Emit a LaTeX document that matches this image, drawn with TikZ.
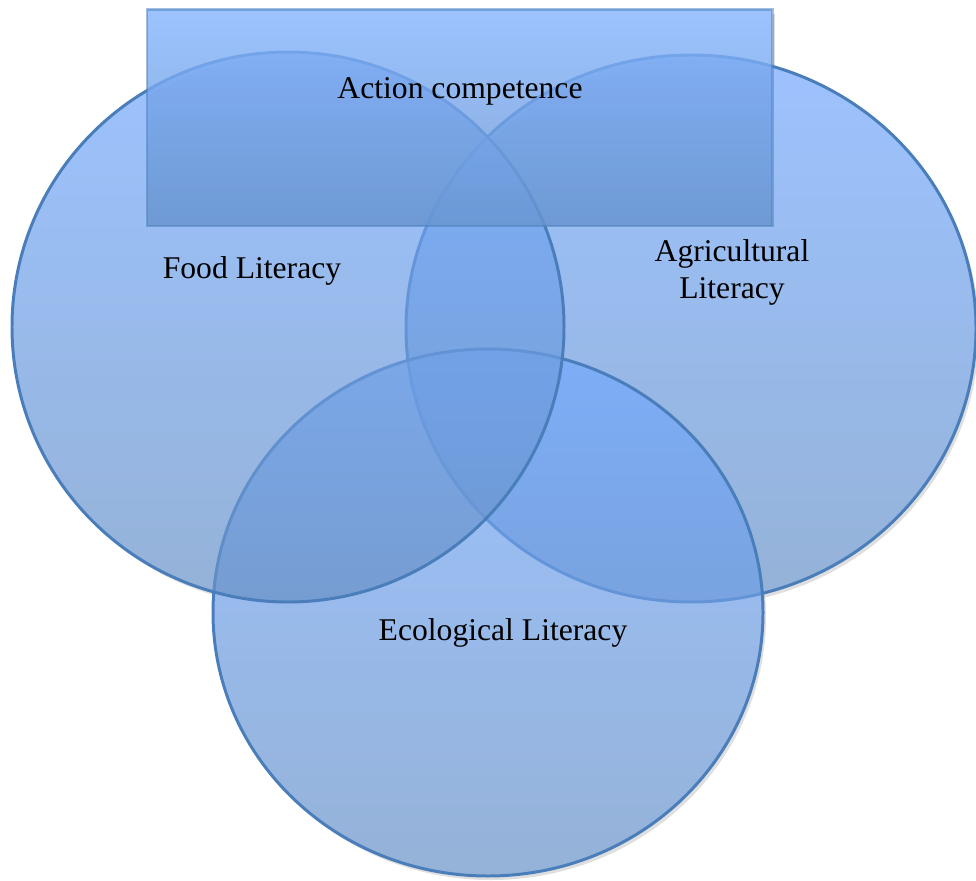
\documentclass[tikz,border=0pt]{standalone}
\usepackage{fontspec}
\setmainfont{Liberation Serif}
\definecolor{vennTop}{HTML}{73A9FF}
\definecolor{vennBot}{HTML}{6892C7}
\definecolor{vennLine}{HTML}{4A7EBB}
\definecolor{boxTop}{HTML}{84B4FF}
\definecolor{boxBot}{HTML}{6794CF}
\tikzset{
  set/.style={top color=vennTop,bottom color=vennBot,draw=vennLine,line width=1.7pt,fill opacity=0.7},
  actionbox/.style={top color=boxTop,bottom color=boxBot,draw=vennLine,draw opacity=0.5,line width=1.7pt,fill opacity=0.8},
  shade/.style={fill=black!25,fill opacity=0.5},
  lbl/.style={font=\fontsize{18}{21}\selectfont,align=center}
}

\begin{document}
\begin{tikzpicture}
\useasboundingbox (0,0) rectangle (19.52,17.6);
\coordinate (agri) at (13.82,11.03);
\coordinate (eco) at (9.76,5.35);
\coordinate (food) at (5.76,11.06);
% shadows, then white underlay so they only show outside
\fill[shade] ([shift={(0.06,-0.08)}]agri) ellipse [x radius=5.7,y radius=5.47];
\fill[shade] ([shift={(0.06,-0.08)}]eco) ellipse [x radius=5.5,y radius=5.27];
\fill[shade] ([shift={(0.06,-0.08)}]food) ellipse [x radius=5.52,y radius=5.5];
\fill[shade] (3.0,13.0) rectangle (15.5,17.32);
\fill[white] (agri) ellipse [x radius=5.7,y radius=5.47]
  (eco) ellipse [x radius=5.5,y radius=5.27]
  (food) ellipse [x radius=5.52,y radius=5.5]
  (2.94,13.08) rectangle (15.44,17.4);
% the three sets
\draw[set] (agri) ellipse [x radius=5.7,y radius=5.47];
\draw[set] (eco) ellipse [x radius=5.5,y radius=5.27];
\draw[set] (food) ellipse [x radius=5.52,y radius=5.5];
% action box on top
\draw[actionbox] (2.94,13.08) rectangle (15.44,17.4);
\node[lbl] (action) at (9.2,15.78) {Action competence};
\node[lbl] (foodlbl) at (5.04,12.18) {Food Literacy};
\node[lbl] (agrilbl) at (14.64,12.16) {Agricultural\\Literacy};
\node[lbl] (ecolbl) at (10.06,4.94) {Ecological Literacy};
\end{tikzpicture}
\end{document}
